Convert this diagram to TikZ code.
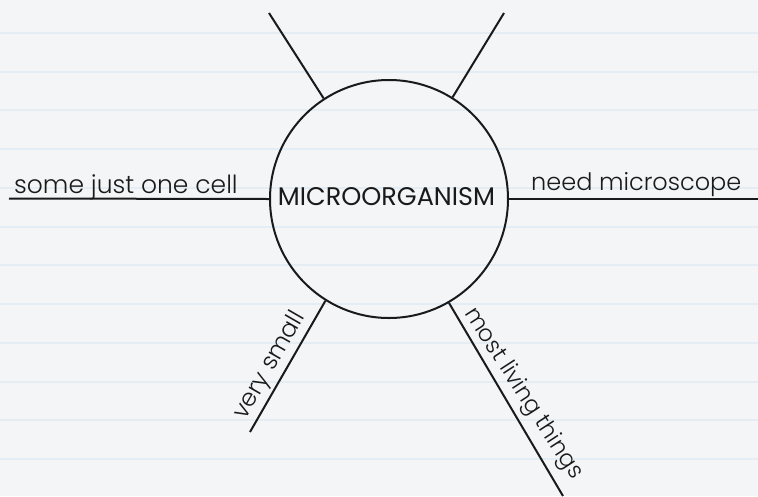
\documentclass[tikz,border=0pt]{standalone}
\usepackage{fontspec}
\setmainfont{Poppins}[UprightFont={* Light}]
\newfontfamily\hubfont{Poppins}
\definecolor{paper}{HTML}{F3F5F6}
\definecolor{rule}{HTML}{E3EDF3}
\definecolor{ink}{HTML}{1A1A1A}
\begin{document}
\begin{tikzpicture}[x=1pt,y=-1pt,
  spoke/.style={line width=2pt, draw=ink},
  hub/.style={circle, draw=ink, line width=2pt, minimum size=238pt, inner sep=0pt},
  title/.style={font=\hubfont\fontsize{25.5}{27}\selectfont, inner sep=0pt, text=ink},
  lbl/.style={font=\fontsize{24}{26}\selectfont, inner sep=0pt, text=ink}]
\fill[paper] (0,0) rectangle (758,496);
\useasboundingbox (0,0) rectangle (758,496);
\foreach \yy in {33,72,110,149,188,227,265,304,343,382,420,459}
  \draw[rule, line width=1.6pt] (0,\yy) -- (758,\yy);
\node[hub] (c) at (389,199) {};
\node[title, anchor=base] (t) at (386.5,205) {MICROORGANISM};
\coordinate (e1) at (9,198.5);
\coordinate (e2) at (758,199);
\coordinate (e3) at (269,13);
\coordinate (e4) at (504,13);
\coordinate (e5) at (250,432);
\coordinate (e6) at (563,496);
\draw[spoke] (c.180) -- (e1);
\draw[spoke] (c.0) -- (e2);
\draw[spoke] (c.123) -- (e3);
\draw[spoke] (c.58.7) -- (e4);
\draw[spoke] (c.238.4) -- (e5);
\draw[spoke] (c.300.2) -- (e6);
\node[lbl, anchor=base west, font=\fontsize{25}{27}\selectfont] (l1) at (14,193) {some just one cell};
\node[lbl, anchor=base west] (l2) at (531,190) {need microscope};
\node[lbl, anchor=base west, rotate=60] (l3) at (245,421) {very small};
\node[lbl, anchor=base west, rotate=-57, font=\fontsize{23}{25}\selectfont] (l4) at (464,313) {most living things};
\end{tikzpicture}
\end{document}
